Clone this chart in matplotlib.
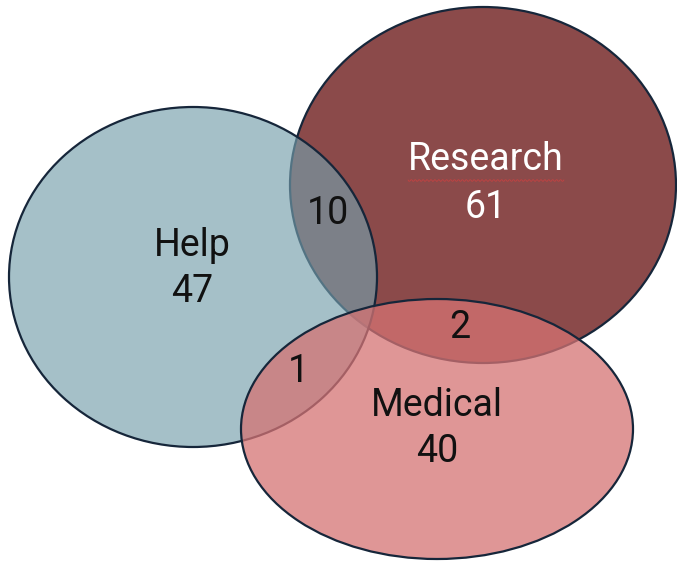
import matplotlib
matplotlib.use("Agg")
import matplotlib.pyplot as plt
from matplotlib.patches import Ellipse
import numpy as np

# group sizes
set_names = ["Research", "Help", "Medical"]
only_counts = [61, 47, 40]
pair_names = ["Help & Research", "Research & Medical", "Help & Medical"]
pair_counts = [10, 2, 1]

# layout in pixel units: centre x, centre y, width, height
shapes = {
    "Research": (483, 185, 386, 356),
    "Help": (193, 277, 368, 340),
    "Medical": (437, 429, 392, 260),
}
fills = {
    "Research": (139 / 255, 74 / 255, 74 / 255, 1.0),
    "Help": (117 / 255, 158 / 255, 171 / 255, 0.65),
    "Medical": (213 / 255, 115 / 255, 115 / 255, 0.75),
}
name_pos = {"Research": (486, 160), "Help": (192, 245), "Medical": (437, 405)}
name_color = {"Research": "white", "Help": "#111111", "Medical": "#111111"}
pair_pos = {"Help & Research": (328, 214), "Research & Medical": (460, 328),
            "Help & Medical": (298, 371)}

plt.rcParams["font.family"] = ["Roboto", "DejaVu Sans"]

fig = plt.figure(figsize=(6.77, 5.63), dpi=100)
ax = fig.add_axes([0, 0, 1, 1])
ax.set_xlim(0, 677)
ax.set_ylim(563, 0)
ax.axis("off")

for name in set_names:
    cx, cy, w, h = shapes[name]
    ax.add_patch(Ellipse((cx, cy), w, h, facecolor=fills[name],
                         edgecolor="#16263a", linewidth=1.6))

fs = 27
labels = {}
for name, count in zip(set_names, only_counts):
    x, y = name_pos[name]
    labels[name] = ax.text(x, y, name, ha="center", va="center", fontsize=fs,
                           color=name_color[name])
    ax.text(x, y + 47, str(count), ha="center", va="center", fontsize=fs,
            color=name_color[name])

for name, count in zip(pair_names, pair_counts):
    x, y = pair_pos[name]
    ax.text(x, y, str(count), ha="center", va="center", fontsize=fs,
            color="#111111")

# red spell-check squiggle under the Research label
fig.canvas.draw()
bb = labels["Research"].get_window_extent().transformed(ax.transData.inverted())
x0, x1 = sorted([bb.x0, bb.x1])
xs = np.linspace(x0, x1, 160)
ly = max(bb.y0, bb.y1)
ax.plot(xs, ly + 2 + 1.0 * np.sin(xs * 1.6), color="#d04040", linewidth=0.6,
        alpha=0.8)

fig.savefig("out.png", dpi=100)
